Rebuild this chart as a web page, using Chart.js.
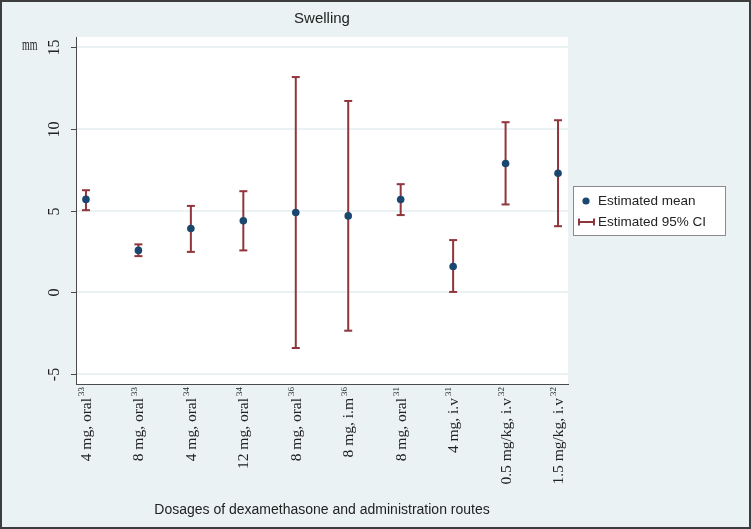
<!DOCTYPE html>
<html>
<head>
<meta charset="utf-8">
<script src="https://cdn.jsdelivr.net/npm/chart.js@4"></script>
<style>
  html, body { margin: 0; padding: 0; background: #eaf2f3; }
  #wrap { width: 751px; height: 529px; position: relative; }
</style>
</head>
<body>
<div id="wrap"><canvas id="chart"></canvas></div>
<script>
// values
const categories = ["4 mg, oral", "8 mg, oral", "4 mg, oral", "12 mg, oral", "8 mg, oral",
                    "8 mg, i.m", "8 mg, oral", "4 mg, i.v", "0.5 mg/kg, i.v", "1.5 mg/kg, i.v"];
const refs = ["33", "33", "34", "34", "36", "36", "31", "31", "32", "32"];
const means = [5.68, 2.56, 3.90, 4.37, 4.88, 4.67, 5.67, 1.58, 7.87, 7.28];
const lower = [5.02, 2.21, 2.47, 2.56, -3.41, -2.35, 4.72, 0.02, 5.37, 4.04];
const upper = [6.24, 2.93, 5.28, 6.18, 13.16, 11.70, 6.61, 3.19, 10.40, 10.52];
const yTicks = [-5, 0, 5, 10, 15];

const navy = "#1a476f";
const cranberry = "#90353b";
const axisCol = "#4a4a4a";
const serif = "'Liberation Serif', 'DejaVu Serif', serif";
const sans = "'Liberation Sans', Arial, sans-serif";

const meanPoints = means.map((v, i) => ({ x: i + 1, y: v }));
// each interval: low, high, then a gap so the line breaks
const ciPoints = [];
lower.forEach((lo, i) => {
  ciPoints.push({ x: i + 1, y: lo });
  ciPoints.push({ x: i + 1, y: upper[i] });
  ciPoints.push({ x: i + 1, y: null });
});

const decor = {
  id: "decor",
  beforeDraw(chart) {
    const { ctx, chartArea: a } = chart;
    ctx.save();
    ctx.fillStyle = "#eaf2f3";
    ctx.fillRect(0, 0, chart.width, chart.height);
    ctx.fillStyle = "#ffffff";
    ctx.fillRect(a.left, a.top, a.right - a.left, a.bottom - a.top);
    ctx.restore();
  },
  afterDraw(chart) {
    const { ctx, chartArea: a } = chart;
    const xs = chart.scales.x, ys = chart.scales.y;
    ctx.save();

    // y tick marks + rotated labels
    ctx.strokeStyle = axisCol;
    ctx.lineWidth = 1;
    ctx.fillStyle = "#222";
    ctx.font = "16px " + serif;
    ctx.textAlign = "center";
    ctx.textBaseline = "middle";
    yTicks.forEach(v => {
      const py = Math.round(ys.getPixelForValue(v)) + 0.5;
      ctx.beginPath();
      ctx.moveTo(a.left - 5, py);
      ctx.lineTo(a.left, py);
      ctx.stroke();
      ctx.save();
      ctx.translate(55, py);
      ctx.rotate(-Math.PI / 2);
      ctx.fillText(String(v), 0, 0);
      ctx.restore();
    });
    // unit label, narrow like the original
    ctx.save();
    ctx.translate(22, ys.getPixelForValue(15) - 1);
    ctx.scale(0.62, 1);
    ctx.textAlign = "left";
    ctx.fillText("mm", 0, 0);
    ctx.restore();

    // x category labels, rotated, with superscript reference
    categories.forEach((c, i) => {
      const px = xs.getPixelForValue(i + 1) + 1;
      ctx.save();
      ctx.translate(px, a.bottom + 3);
      ctx.rotate(-Math.PI / 2);
      ctx.textAlign = "right";
      ctx.font = "9px " + serif;
      const ws = ctx.measureText(refs[i]).width;
      ctx.fillText(refs[i], 0, -5);
      ctx.font = "15.5px " + serif;
      ctx.fillText(c, -ws - 2, 0);
      ctx.restore();
    });

    // title and axis title
    const cx = (a.left + a.right) / 2;
    ctx.textAlign = "center";
    ctx.font = "15px " + sans;
    ctx.fillText("Swelling", cx, 19);
    ctx.font = "14px " + sans;
    ctx.fillText("Dosages of dexamethasone and administration routes", cx, 510);

    // legend
    ctx.fillStyle = "#ffffff";
    ctx.fillRect(573.5, 186.5, 152, 49);
    ctx.strokeStyle = "#8a8a8a";
    ctx.strokeRect(573.5, 186.5, 152, 49);
    ctx.fillStyle = navy;
    ctx.beginPath();
    ctx.arc(586, 201, 3.6, 0, Math.PI * 2);
    ctx.fill();
    ctx.strokeStyle = cranberry;
    ctx.lineWidth = 2;
    ctx.beginPath();
    ctx.moveTo(579, 222); ctx.lineTo(594, 222);
    ctx.moveTo(579, 218.5); ctx.lineTo(579, 225.5);
    ctx.moveTo(594, 218.5); ctx.lineTo(594, 225.5);
    ctx.stroke();
    ctx.fillStyle = "#222";
    ctx.textAlign = "left";
    ctx.font = "13.5px " + sans;
    ctx.fillText("Estimated mean", 598, 201);
    ctx.fillText("Estimated 95% CI", 598, 222);

    // outer frame
    ctx.strokeStyle = "#3d3d3d";
    ctx.lineWidth = 2;
    ctx.strokeRect(1, 1, chart.width - 2, chart.height - 2);
    ctx.restore();
  }
};

new Chart(document.getElementById("chart"), {
  type: "scatter",
  data: {
    datasets: [
      {
        label: "Estimated mean",
        data: meanPoints,
        pointRadius: 3.8,
        pointBackgroundColor: navy,
        pointBorderColor: navy,
        pointBorderWidth: 0
      },
      {
        label: "Estimated 95% CI",
        type: "line",
        data: ciPoints,
        showLine: true,
        spanGaps: false,
        borderColor: cranberry,
        borderWidth: 2,
        pointStyle: "line",
        pointRadius: 4,
        pointBorderWidth: 2,
        pointBorderColor: cranberry
      }
    ]
  },
  options: {
    responsive: true,
    maintainAspectRatio: false,
    animation: false,
    events: [],
    layout: { padding: { left: 76, top: 37, right: 183, bottom: 145 } },
    plugins: { legend: { display: false }, tooltip: { enabled: false } },
    scales: {
      x: {
        type: "linear",
        min: 0.81,
        max: 10.19,
        afterBuildTicks: s => { s.ticks = categories.map((_, i) => ({ value: i + 1 })); },
        ticks: { display: false },
        grid: { display: false, drawTicks: false },
        border: { display: true, color: axisCol, width: 1 }
      },
      y: {
        min: -5.61,
        max: 15.61,
        afterBuildTicks: s => { s.ticks = yTicks.map(v => ({ value: v })); },
        ticks: { display: false },
        grid: { color: "#eaf2f3", lineWidth: 2, drawTicks: false },
        border: { display: true, color: axisCol, width: 1 }
      }
    }
  },
  plugins: [decor]
});
</script>
</body>
</html>
